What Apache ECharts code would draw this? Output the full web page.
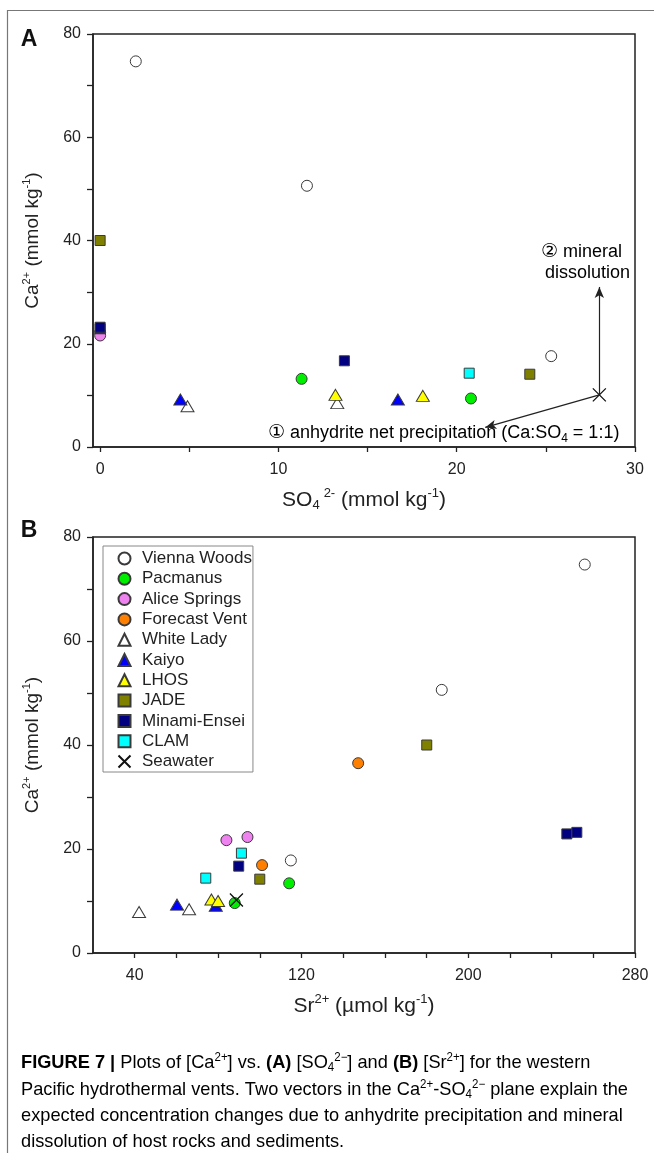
<!DOCTYPE html>
<html>
<head>
<meta charset="utf-8">
<script src="https://cdn.jsdelivr.net/npm/echarts@6/dist/echarts.min.js"></script>
<style>
html,body{margin:0;padding:0;background:#fff;}
#c{width:654px;height:1153px;}
</style>
</head>
<body>
<div id="c"></div>
<script>
// ---------- data ----------
const seriesNames = ['Vienna Woods','Pacmanus','Alice Springs','Forecast Vent','White Lady','Kaiyo','LHOS','JADE','Minami-Ensei','CLAM','Seawater'];

// Panel A: [SO4 (mmol/kg), Ca (mmol/kg)]
const viennaA   = [[2.0,74.7],[11.6,50.6],[25.3,17.6]];
const pacmanusA = [[11.3,13.2],[20.8,9.4]];
const aliceA    = [[0,22.2],[0,21.6]];
const forecastA = [];
const whiteA    = [[4.9,7.9],[13.3,8.5]];
const kaiyoA    = [[4.5,9.2],[16.7,9.2]];
const lhosA     = [[13.2,10.1],[18.1,9.9]];
const jadeA     = [[0,40.0],[24.1,14.1]];
const minamiA   = [[0,22.9],[0,23.2],[13.7,16.7]];
const clamA     = [[20.7,14.3]];
const seawaterA = [[28.0,10.1]];

// Panel B: [Sr (umol/kg), Ca (mmol/kg)]
const viennaB   = [[255.9,74.7],[187.3,50.6],[114.9,17.8]];
const pacmanusB = [[114.1,13.4],[88.0,9.6]];
const aliceB    = [[84.0,21.7],[94.1,22.3]];
const forecastB = [[147.2,36.5],[101.1,16.9]];
const whiteB    = [[66.1,8.4],[42.1,7.9]];
const kaiyoB    = [[78.9,9.1],[60.3,9.3]];
const lhosB     = [[76.8,10.3],[80.0,10.0]];
const jadeB     = [[180.1,40.0],[100.0,14.2]];
const minamiB   = [[247.3,22.9],[252.1,23.2],[89.9,16.7]];
const clamB     = [[91.2,19.2],[74.1,14.4]];
const seawaterB = [[88.8,10.2]];

// arrows from seawater point in panel A
const arrowStart = [28.0,10.1];
const arrowEnds  = [[28.0,31.0],[21.6,3.8]];

// ticks
const xTicksA  = [0,5,10,15,20,25,30];
const xLabelsA = [0,10,20,30];
const yTicks   = [0,10,20,30,40,50,60,70,80];
const yLabels  = [0,20,40,60,80];
const xTicksB  = [40,60,80,100,120,140,160,180,200,220,240,260,280];
const xLabelsB = [40,120,200,280];

// ---------- styles ----------
const SANS = '"Liberation Sans", Arial, Helvetica, sans-serif';
const SYM_X = 'path://M0,0L10,10M10,0L0,10';

const styleMap = {
  'Vienna Woods':  {symbol:'circle',   size:11, color:'#ffffff'},
  'Pacmanus':      {symbol:'circle',   size:11, color:'#00ee00'},
  'Alice Springs': {symbol:'circle',   size:11, color:'#ee82ee'},
  'Forecast Vent': {symbol:'circle',   size:11, color:'#ff7f00'},
  'White Lady':    {symbol:'triangle', size:[13,11], color:'#ffffff'},
  'Kaiyo':         {symbol:'triangle', size:[13,11], color:'#0000ff'},
  'LHOS':          {symbol:'triangle', size:[13,11], color:'#ffff00'},
  'JADE':          {symbol:'rect',     size:10, color:'#808000'},
  'Minami-Ensei':  {symbol:'rect',     size:10, color:'#000080'},
  'CLAM':          {symbol:'rect',     size:10, color:'#00ffff'},
  'Seawater':      {symbol:SYM_X,      size:13, color:'none'}
};

const dataA = [viennaA,pacmanusA,aliceA,forecastA,whiteA,kaiyoA,lhosA,jadeA,minamiA,clamA,seawaterA];
const dataB = [viennaB,pacmanusB,aliceB,forecastB,whiteB,kaiyoB,lhosB,jadeB,minamiB,clamB,seawaterB];

function mkSeries(name, data, gi){
  const st = styleMap[name];
  return {
    name: name, type:'scatter', xAxisIndex: gi, yAxisIndex: gi,
    data: data, symbol: st.symbol, symbolSize: st.size, symbolKeepAspect:true,
    itemStyle: {color: st.color, borderColor: name==='Seawater' ? '#111' : '#3a3a3a', borderWidth: name==='Seawater' ? 1.3 : 1, opacity:1},
    emphasis: {disabled:true}, animation:false
  };
}

const series = [];
seriesNames.forEach((n,i)=>series.push(mkSeries(n, dataA[i], 0)));
seriesNames.forEach((n,i)=>series.push(mkSeries(n, dataB[i], 1)));

// arrows on the seawater series of panel A
series[10].markLine = {
  silent:true, animation:false,
  symbol:['none','arrow'], symbolSize:[7,11],
  lineStyle:{color:'#222', width:1.2, type:'solid'},
  label:{show:false},
  data: arrowEnds.map(e=>[{coord:arrowStart},{coord:e}])
};

function mkRich(fs){
  return {
    t:   {fontFamily:SANS, fontSize:fs, color:'#222'},
    sup: {fontFamily:SANS, fontSize:Math.round(fs*0.6), color:'#222', padding:[0,0,13,0]},
    sub: {fontFamily:SANS, fontSize:Math.round(fs*0.6), color:'#222', padding:[11,0,0,0]},
    sp:  {fontFamily:SANS, fontSize:fs, width:4}
  };
}

function xAxis(gi, min, max, ticks, labels, name){
  return {
    type:'value', gridIndex:gi, min:min, max:max,
    splitLine:{show:false},
    axisLine:{show:true, onZero:false, lineStyle:{color:'#222', width:1.5}},
    axisTick:{show:true, inside:false, length:5, lineStyle:{color:'#222', width:1.3}, customValues:ticks},
    axisLabel:{show:true, margin:15, fontFamily:SANS, fontSize:16, color:'#222', customValues:labels},
    name:name, nameLocation:'middle', nameGap:40, nameTextStyle:{rich:mkRich(21)}
  };
}
function yAxis(gi, name){
  return {
    type:'value', gridIndex:gi, min:0, max:80,
    splitLine:{show:false},
    axisLine:{show:true, onZero:false, lineStyle:{color:'#222', width:1.5}},
    axisTick:{show:true, inside:false, length:6, lineStyle:{color:'#222', width:1.3}, customValues:yTicks},
    axisLabel:{show:true, margin:12, fontFamily:SANS, fontSize:16, color:'#222', customValues:yLabels},
    name:name, nameLocation:'middle', nameGap:48, nameRotate:90, nameTextStyle:{rich:mkRich(19)}
  };
}

const caName = '{t|Ca}{sup|2+}{t| (mmol kg}{sup|-1}{t|)}';

// caption (condensed look: Liberation Sans squeezed horizontally)
const CAP_FS = 19, CAP_SUP = 12;
const capRich = {
  t:  {fontFamily:SANS, fontSize:CAP_FS, color:'#333'},
  b:  {fontFamily:SANS, fontSize:CAP_FS, color:'#111', fontWeight:'bold'},
  sup:{fontFamily:SANS, fontSize:CAP_SUP, color:'#333', padding:[0,0,11,0]},
  sub:{fontFamily:SANS, fontSize:CAP_SUP, color:'#333', padding:[9,0,0,0]}
};
const captionLines = [
  '{b|FIGURE 7 |}{t| Plots of [Ca}{sup|2+}{t|] vs. }{b|(A)}{t| [SO}{sub|4}{sup|2−}{t|] and }{b|(B)}{t| [Sr}{sup|2+}{t|] for the western}',
  '{t|Pacific hydrothermal vents. Two vectors in the Ca}{sup|2+}{t|-SO}{sub|4}{sup|2−}{t| plane explain the}',
  '{t|expected concentration changes due to anhydrite precipitation and mineral}',
  '{t|dissolution of host rocks and sediments.}'
];
const captionY = [1063, 1090, 1116, 1142];
const CAP_TARGET_W = 607; // width of the 2nd caption line in the figure
const mctx = document.createElement('canvas').getContext('2d');
mctx.font = CAP_FS + 'px "Liberation Sans"';
let w2 = mctx.measureText('Pacific hydrothermal vents. Two vectors in the Ca-SO plane explain the').width;
mctx.font = CAP_SUP + 'px "Liberation Sans"';
w2 += mctx.measureText('2+').width + mctx.measureText('4').width + mctx.measureText('2−').width;
const capScale = Math.min(1, CAP_TARGET_W / w2);

const annRich = {
  a:  {fontFamily:SANS, fontSize:18, color:'#222'},
  c:  {fontFamily:'"DejaVu Sans", sans-serif', fontSize:19, color:'#222'},
  sub:{fontFamily:SANS, fontSize:12, color:'#222', padding:[11,0,0,0]}
};

const graphics = [
  {type:'line', shape:{x1:7,y1:10.5,x2:654,y2:10.5}, style:{stroke:'#777', lineWidth:1.2}, silent:true},
  {type:'line', shape:{x1:7.5,y1:10,x2:7.5,y2:1153}, style:{stroke:'#777', lineWidth:1.2}, silent:true},
  {type:'text', x:29, y:40, style:{text:'A', font:'bold 23px '+SANS, fill:'#111', align:'center', verticalAlign:'middle'}},
  {type:'text', x:29, y:531, style:{text:'B', font:'bold 23px '+SANS, fill:'#111', align:'center', verticalAlign:'middle'}},
  {type:'text', x:622, y:252, style:{text:'{c|②}{a| mineral}', rich:annRich, align:'right', verticalAlign:'middle'}},
  {type:'text', x:630, y:273, style:{text:'{a|dissolution}', rich:annRich, align:'right', verticalAlign:'middle'}},
  {type:'text', x:268, y:433, style:{text:'{c|①}{a| anhydrite net precipitation (Ca:SO}{sub|4}{a| = 1:1)}', rich:annRich, align:'left', verticalAlign:'middle'}}
];
captionLines.forEach((l,i)=>graphics.push({type:'text', x:21, y:captionY[i], scaleX:capScale, originX:0, style:{text:l, rich:capRich, align:'left', verticalAlign:'middle'}}));

const option = {
  backgroundColor:'#fff',
  animation:false,
  grid:[
    {left:93, top:34, width:542, height:413, show:true, borderColor:'#222', borderWidth:1.5, backgroundColor:'transparent'},
    {left:93, top:537, width:542, height:416, show:true, borderColor:'#222', borderWidth:1.5, backgroundColor:'transparent'}
  ],
  xAxis:[
    xAxis(0, -0.4, 30, xTicksA, xLabelsA, '{t|SO}{sub|4}{sp|}{sup|2-}{t| (mmol kg}{sup|-1}{t|)}'),
    xAxis(1, 20, 280, xTicksB, xLabelsB, '{t|Sr}{sup|2+}{t| (µmol kg}{sup|-1}{t|)}')
  ],
  yAxis:[ yAxis(0, caName), yAxis(1, caName) ],
  legend:{
    data: seriesNames.map(n=>({name:n, icon: styleMap[n].symbol})),
    orient:'vertical', left:103, top:546,
    backgroundColor:'#fff', borderColor:'#888', borderWidth:1, borderRadius:0,
    padding:[4,1,2,13], itemWidth:12, itemHeight:12, itemGap:3.3,
    textStyle:{fontFamily:SANS, fontSize:17, color:'#222', padding:[0,0,0,6.5]},
    selectedMode:false
  },
  tooltip:{show:false},
  series: series,
  graphic: graphics
};

const chart = echarts.init(document.getElementById('c'), null, {renderer:'canvas'});
chart.setOption(option);
</script>
</body>
</html>
